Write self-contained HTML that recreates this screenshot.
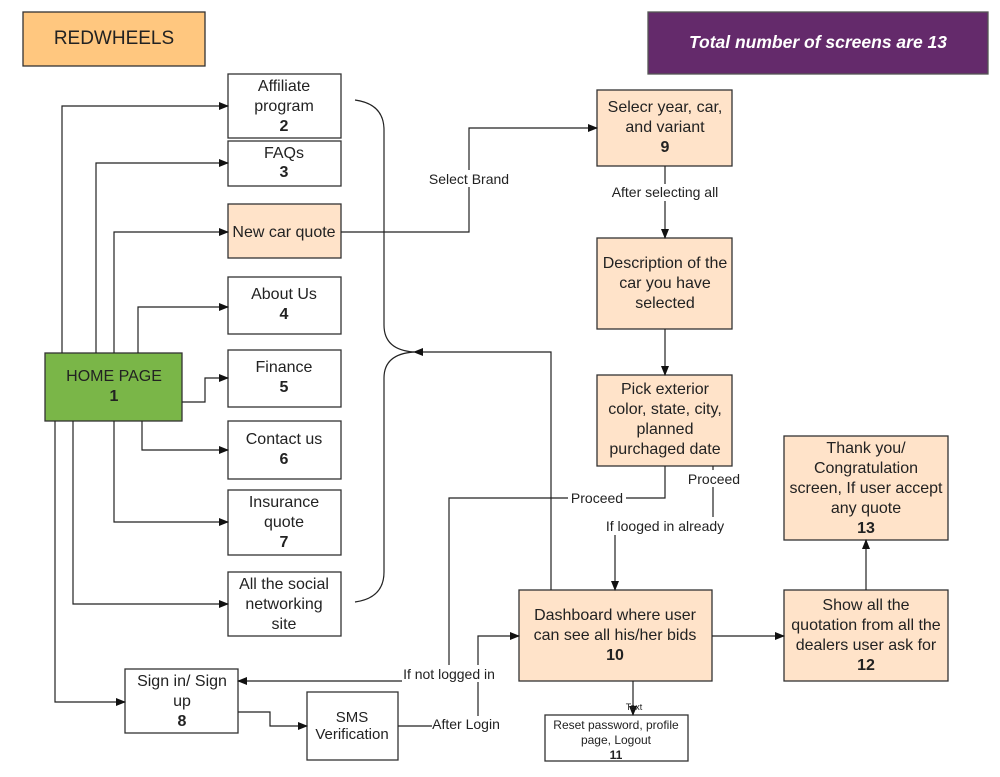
<!DOCTYPE html>
<html><head><meta charset="utf-8"><style>
body{margin:0;background:#fff}
svg text{font-family:"Liberation Sans",sans-serif;fill:#222}
</style></head><body>
<svg width="1000" height="772" viewBox="0 0 1000 772" xmlns="http://www.w3.org/2000/svg">
<defs><marker id="a" markerWidth="10" markerHeight="8" refX="9" refY="4" orient="auto" markerUnits="userSpaceOnUse"><path d="M0,0 L10,4 L0,8 z" fill="#111"/></marker></defs>
<g stroke="#333" stroke-width="1.3" fill="none">
<rect x="23" y="12" width="182" height="54" fill="#ffc77f"/>
<rect x="648" y="12" width="340" height="62" fill="#642a6b" stroke="#555"/>
<rect x="228" y="74" width="113" height="64" fill="#fff"/>
<rect x="228" y="141" width="113" height="45" fill="#fff"/>
<rect x="228" y="204" width="113" height="54" fill="#ffe3c9"/>
<rect x="228" y="277" width="113" height="57" fill="#fff"/>
<rect x="228" y="350" width="113" height="57" fill="#fff"/>
<rect x="228" y="421" width="113" height="58" fill="#fff"/>
<rect x="228" y="490" width="113" height="65" fill="#fff"/>
<rect x="228" y="572" width="113" height="64" fill="#fff"/>
<rect x="45" y="353" width="137" height="68" fill="#7ab648"/>
<rect x="125" y="669" width="113" height="64" fill="#fff"/>
<rect x="307" y="692" width="91" height="68" fill="#fff"/>
<rect x="597" y="90" width="135" height="76" fill="#ffe3c9"/>
<rect x="597" y="238" width="135" height="91" fill="#ffe3c9"/>
<rect x="597" y="375" width="135" height="91" fill="#ffe3c9"/>
<rect x="519" y="590" width="193" height="91" fill="#ffe3c9"/>
<rect x="545" y="715" width="143" height="46" fill="#fff"/>
<rect x="784" y="590" width="164" height="91" fill="#ffe3c9"/>
<rect x="784" y="436" width="164" height="104" fill="#ffe3c9"/>
</g>
<g stroke="#222" stroke-width="1.2" fill="none">
<path d="M62 353 V106 H228" marker-end="url(#a)"/>
<path d="M96 353 V163 H228" marker-end="url(#a)"/>
<path d="M114 353 V232 H228" marker-end="url(#a)"/>
<path d="M138 353 V307 H228" marker-end="url(#a)"/>
<path d="M182 402 H205 V378 H228" marker-end="url(#a)"/>
<path d="M142 421 V450 H228" marker-end="url(#a)"/>
<path d="M114 421 V522 H228" marker-end="url(#a)"/>
<path d="M73 421 V604 H228" marker-end="url(#a)"/>
<path d="M55 421 V702 H125" marker-end="url(#a)"/>
<path d="M355 100 Q384 104 384 130 V325 Q384 350 414 352"/>
<path d="M355 602 Q384 598 384 572 V378 Q384 354 414 352"/>
<path d="M551 590 V352 H414" marker-end="url(#a)"/>
<path d="M341 232 H469 V128 H597" marker-end="url(#a)"/>
<path d="M665 166 V238" marker-end="url(#a)"/>
<path d="M665 329 V375" marker-end="url(#a)"/>
<path d="M665 466 V498 H449 V681 H238" marker-end="url(#a)"/>
<path d="M713 466 V520"/>
<path d="M615 535 V590" marker-end="url(#a)"/>
<path d="M238 712 H270 V726 H307" marker-end="url(#a)"/>
<path d="M398 726 H478 V636 H519" marker-end="url(#a)"/>
<path d="M633 681 V715" marker-end="url(#a)"/>
<path d="M712 636 H784" marker-end="url(#a)"/>
<path d="M866 590 V540" marker-end="url(#a)"/>
</g>
<g font-size="14">
<rect x="428" y="170" width="84" height="17" fill="#fff"/><text x="469" y="184" text-anchor="middle">Select Brand</text>
<rect x="605" y="184" width="120" height="17" fill="#fff"/><text x="665" y="197" text-anchor="middle">After selecting all</text>
<rect x="568" y="489" width="58" height="17" fill="#fff"/><text x="597" y="503" text-anchor="middle">Proceed</text>
<rect x="685" y="470" width="58" height="17" fill="#fff"/><text x="714" y="484" text-anchor="middle">Proceed</text>
<rect x="600" y="517" width="132" height="18" fill="#fff"/><text x="665" y="531" text-anchor="middle">If looged in already</text>
<rect x="402" y="665" width="94" height="17" fill="#fff"/><text x="449" y="679" text-anchor="middle">If not logged in</text>
<rect x="432" y="716" width="70" height="17" fill="#fff"/><text x="466" y="729" text-anchor="middle">After Login</text>
<text x="634" y="710" text-anchor="middle" font-size="9">Text</text>
</g>
<g font-size="16" text-anchor="middle">
<text x="114" y="44" font-size="19">REDWHEELS</text>
<text x="818" y="48" font-size="17.5" font-style="italic" font-weight="bold" style="fill:#fff">Total number of screens are 13</text>
<text x="284" y="91">Affiliate</text><text x="284" y="111">program</text><text x="284" y="131" font-weight="bold">2</text>
<text x="284" y="158">FAQs</text><text x="284" y="177" font-weight="bold">3</text>
<text x="284" y="237">New car quote</text>
<text x="284" y="299">About Us</text><text x="284" y="319" font-weight="bold">4</text>
<text x="284" y="372">Finance</text><text x="284" y="392" font-weight="bold">5</text>
<text x="284" y="444">Contact us</text><text x="284" y="464" font-weight="bold">6</text>
<text x="284" y="507">Insurance</text><text x="284" y="527">quote</text><text x="284" y="547" font-weight="bold">7</text>
<text x="284" y="589">All the social</text><text x="284" y="609">networking</text><text x="284" y="629">site</text>
<text x="114" y="381">HOME PAGE</text><text x="114" y="401" font-weight="bold">1</text>
<text x="182" y="686">Sign in/ Sign</text><text x="182" y="706">up</text><text x="182" y="726" font-weight="bold">8</text>
<text x="352" y="722" font-size="15">SMS</text><text x="352" y="739" font-size="15">Verification</text>
<text x="665" y="112">Selecr year, car,</text><text x="665" y="132">and variant</text><text x="665" y="152" font-weight="bold">9</text>
<text x="665" y="268">Description of the</text><text x="665" y="288">car you have</text><text x="665" y="308">selected</text>
<text x="665" y="394">Pick exterior</text><text x="665" y="414">color, state, city,</text><text x="665" y="434">planned</text><text x="665" y="454">purchaged date</text>
<text x="615" y="620">Dashboard where user</text><text x="615" y="640">can see all his/her bids</text><text x="615" y="660" font-weight="bold">10</text>
<text x="616" y="729" font-size="12">Reset password, profile</text><text x="616" y="744" font-size="12">page, Logout</text><text x="616" y="759" font-size="12" font-weight="bold">11</text>
<text x="866" y="610">Show all the</text><text x="866" y="630">quotation from all the</text><text x="866" y="650">dealers user ask for</text><text x="866" y="670" font-weight="bold">12</text>
<text x="866" y="453">Thank you/</text><text x="866" y="473">Congratulation</text><text x="866" y="493">screen, If user accept</text><text x="866" y="513">any quote</text><text x="866" y="533" font-weight="bold">13</text>
</g>
</svg>
</body></html>
